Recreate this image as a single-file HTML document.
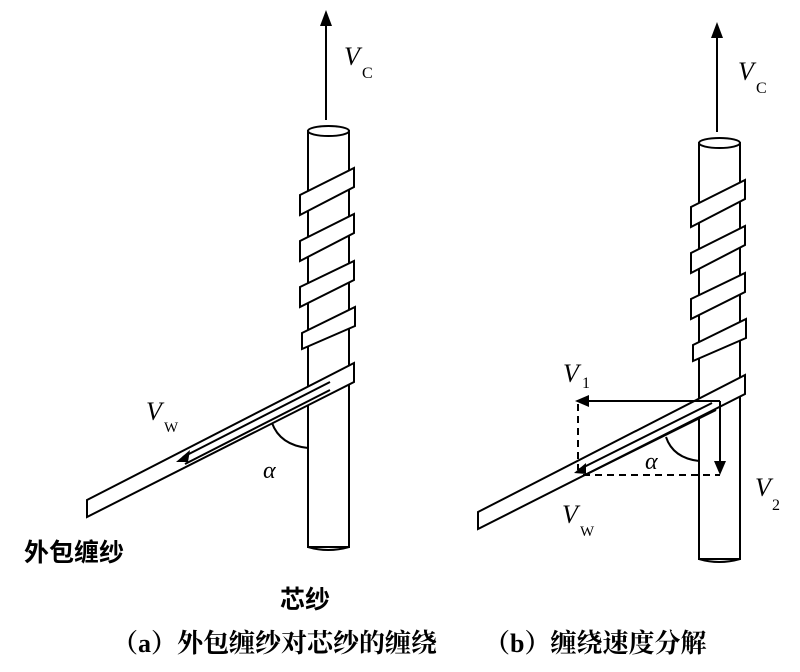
<!DOCTYPE html>
<html><head><meta charset="utf-8"><style>
body{margin:0;background:#fff}
svg{display:block}
.t{font-family:"Liberation Serif",serif;font-style:italic}
.s{font-family:"Liberation Serif",serif}
.c{font-family:"Liberation Sans","Noto Sans CJK SC",sans-serif;font-weight:bold}
.cs{font-family:"Liberation Serif","Noto Serif CJK SC",serif;font-weight:bold}
</style></head><body>
<svg width="800" height="672" viewBox="0 0 800 672" xmlns="http://www.w3.org/2000/svg">
<defs>
<g id="fig" fill="#fff" stroke="#000" stroke-width="2">
  <line x1="326" y1="120" x2="326" y2="20"/>
  <polygon points="326,10 320,26 332,26" fill="#000" stroke="none"/>
  <rect x="308" y="131" width="41" height="416" />
  <ellipse cx="328.5" cy="131" rx="20.5" ry="5"/>
  <path d="M308,547 Q328,553 349,547" fill="none"/>
  <polygon points="300,195 354,168 354,187 300,215"/>
  <polygon points="300,241 354,214 354,233 300,261"/>
  <polygon points="300,287 354,261 354,280 300,307"/>
  <polygon points="302,333 355,307 355,326 302,349"/>
  <polygon points="87,500 354,363 354,382 87,517"/>
</g>
</defs>
<use href="#fig"/>
<use href="#fig" transform="translate(391,12)"/>
<g stroke="#000" stroke-width="2" fill="none">
  <line x1="330" y1="382" x2="183" y2="457"/>
  <line x1="330" y1="390" x2="185" y2="464"/>
  <path d="M272,423 Q280,445 308,448"/>
</g>
<polygon points="176,462 190,450 188,462" fill="#000"/>
<text class="t" x="146" y="420" font-size="26">V</text>
<text class="s" x="164" y="432" font-size="15">W</text>
<text class="t" x="263" y="478" font-size="24">α</text>
<text class="t" x="344" y="65" font-size="26">V</text>
<text class="s" x="362" y="78" font-size="16">C</text>
<g stroke="#000" stroke-width="2" fill="none">
  <line x1="720" y1="401" x2="584" y2="401"/>
  <line x1="720" y1="401" x2="720" y2="465"/>
  <line x1="578" y1="404" x2="578" y2="470" stroke-dasharray="7,5"/>
  <line x1="583" y1="475" x2="720" y2="475" stroke-dasharray="7,5"/>
  <line x1="712" y1="403" x2="578" y2="470"/>
  <line x1="716" y1="410" x2="585" y2="475"/>
  <path d="M666,437 Q673,458 699,461"/>
</g>
<polygon points="575,401 589,395 589,407" fill="#000"/>
<polygon points="720,475 714,461 726,461" fill="#000"/>
<polygon points="574,473 586,463 586,474" fill="#000"/>
<text class="t" x="563" y="382" font-size="26">V</text>
<text class="s" x="582" y="388" font-size="16">1</text>
<text class="t" x="755" y="496" font-size="26">V</text>
<text class="s" x="772" y="510" font-size="16">2</text>
<text class="t" x="562" y="523" font-size="26">V</text>
<text class="s" x="580" y="536" font-size="15">W</text>
<text class="t" x="645" y="469" font-size="24">α</text>
<text class="t" x="738" y="80" font-size="26">V</text>
<text class="s" x="756" y="93" font-size="16">C</text>
<text class="c" x="24" y="561" font-size="25">外包缠纱</text>
<text class="c" x="280" y="608" font-size="25">芯纱</text>
<text class="cs" x="112" y="652" font-size="26">（a）外包缠纱对芯纱的缠绕</text>
<text class="cs" x="484" y="652" font-size="26">（b）缠绕速度分解</text>
</svg>
</body></html>
